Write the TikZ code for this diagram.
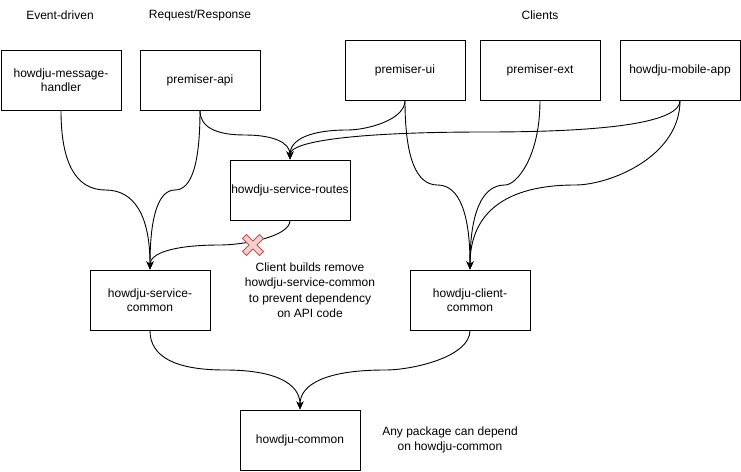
\documentclass[tikz,border=0pt]{standalone}
\usepackage{fontspec}
\setmainfont{Liberation Sans}
\usetikzlibrary{arrows.meta}
\definecolor{xfill}{HTML}{F8CECC}
\definecolor{xline}{HTML}{B85450}
\tikzset{
  pkg/.style={draw, line width=1pt, minimum width=120pt, minimum height=60pt, inner sep=0pt, align=center, font=\fontsize{12pt}{14.5pt}\selectfont},
  lbl/.style={align=center, inner sep=0pt, font=\fontsize{12pt}{15.5pt}\selectfont},
  dep/.style={line width=0.9pt, -{Stealth[length=8pt,width=7pt,inset=2.5pt]}},
  xmark/.style={fill=xfill, draw=xline, line width=0.8pt}
}
\begin{document}
\begin{tikzpicture}[x=1pt, y=-1pt]
\useasboundingbox[fill=white] (0,0) rectangle (741,471);
% headers
\node[lbl] (hev) at (60,15) {Event-driven};
\node[lbl] (hrr) at (200,15) {Request/Response};
\node[lbl] (hcl) at (540,15) {Clients};
% packages
\node[pkg] (mh) at (61,80) {howdju-message-\\handler};
\node[pkg] (api) at (200,80) {premiser-api};
\node[pkg] (ui) at (405,70) {premiser-ui};
\node[pkg] (ext) at (540,70) {premiser-ext};
\node[pkg] (mob) at (680,70) {howdju-mobile-app};
\node[pkg] (rt) at (290,190) {howdju-service-routes};
\node[pkg] (sc) at (150,300) {howdju-service-\\common};
\node[pkg] (cc) at (470,300) {howdju-client-\\common};
\node[pkg] (hc) at (300,440) {howdju-common};
% notes
\node[lbl] (n1) at (310,290) {Client builds remove\\howdju-service-common\\to prevent dependency\\on API code};
\node[lbl] (n2) at (450,440) {Any package can depend\\on howdju-common};
% connectors
\draw[dep] (mh.south) .. controls (61,163.3) and (76,190) .. (105.5,190) .. controls (135,190) and (150,216.7) .. (sc.north);
\draw[dep] (api.south) .. controls (200,163.3) and (191.7,190) .. (175,190) .. controls (158.3,190) and (150,216.7) .. (sc.north);
\draw[dep] (api.south) .. controls (200,126.7) and (215,135) .. (245,135) .. controls (275,135) and (290,143.3) .. (rt.north);
\draw[dep] (ui.south) .. controls (405,120) and (366.7,130) .. (347.5,130) .. controls (309.2,130) and (290,140) .. (rt.north);
\draw[dep] (mob.south) .. controls (680,121.3) and (615,132) .. (485,132) .. controls (355,132) and (290,141.3) .. (rt.north);
\draw[dep] (ui.south) .. controls (405,156.7) and (415.8,185) .. (437.5,185) .. controls (459.2,185) and (470,213.3) .. (cc.north);
\draw[dep] (ext.south) .. controls (540,156.7) and (516.7,185) .. (505,185) .. controls (481.7,185) and (470,213.3) .. (cc.north);
\draw[dep] (mob.south) .. controls (680,156.7) and (610,185) .. (575,185) .. controls (505,185) and (470,213.3) .. (cc.north);
\draw[dep] (rt.south) .. controls (290,236.7) and (243.3,245) .. (220,245) .. controls (173.3,245) and (150,253.3) .. (sc.north);
\draw[dep] (sc.south) .. controls (150,356.7) and (175,370) .. (225,370) .. controls (275,370) and (300,383.3) .. (hc.north);
\draw[dep] (cc.south) .. controls (470,356.7) and (413.3,370) .. (385,370) .. controls (328.3,370) and (300,383.3) .. (hc.north);
% red cross
\begin{scope}[shift={(253,245)}, rotate=45]
\draw[xmark] (-2.8,-12) -- (2.8,-12) -- (2.8,-2.8) -- (12,-2.8) -- (12,2.8) -- (2.8,2.8) -- (2.8,12) -- (-2.8,12) -- (-2.8,2.8) -- (-12,2.8) -- (-12,-2.8) -- (-2.8,-2.8) -- cycle;
\end{scope}
\end{tikzpicture}
\end{document}
